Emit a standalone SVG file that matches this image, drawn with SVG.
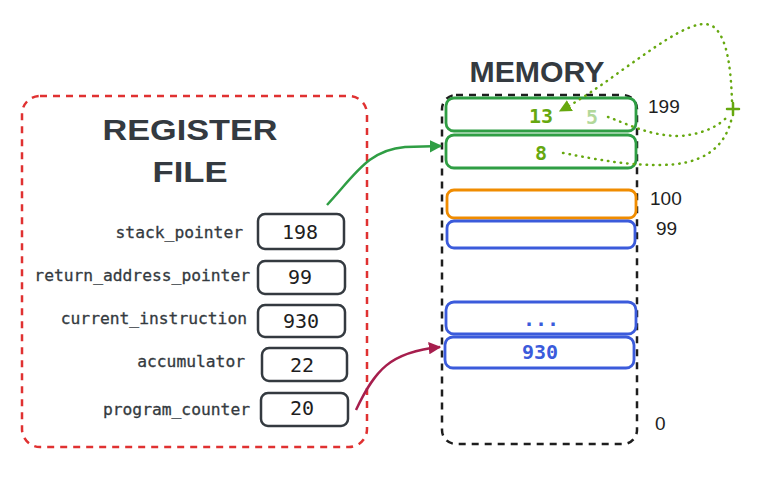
<svg xmlns="http://www.w3.org/2000/svg" width="760" height="484" viewBox="0 0 760 484">
<defs>
<style>
.title{font-family:"Liberation Sans",Arial,sans-serif;font-weight:bold;fill:#343a40}
.lbl{font-family:"DejaVu Sans Mono","Liberation Mono",monospace;font-size:16.3px;fill:#343a40;text-anchor:end;stroke:#343a40;stroke-width:0.3}
.val{font-family:"DejaVu Sans Mono","Liberation Mono",monospace;font-size:20px;fill:#1e1e1e;text-anchor:middle}
.reg{fill:#fff;stroke:#343a40;stroke-width:2.5}
.mem{font-family:"DejaVu Sans Mono","Liberation Mono",monospace;font-size:20px;font-weight:bold;text-anchor:middle}
.addr{font-family:"Liberation Sans",Arial,sans-serif;font-size:19px;fill:#1e1e1e}
.cell{fill:#fff;stroke-width:2.8}
.dot{fill:none;stroke:#66a80f;stroke-width:2.5;stroke-linecap:round;stroke-dasharray:0.5 6}
</style>
<marker id="agreen" viewBox="0 0 10 10" refX="9" refY="5" markerWidth="5" markerHeight="5" orient="auto"><path d="M0,0 L10,5 L0,10 z" fill="#2f9e44"/></marker>
<marker id="ared" viewBox="0 0 10 10" refX="9" refY="5" markerWidth="5" markerHeight="5" orient="auto"><path d="M0,0 L10,5 L0,10 z" fill="#a61e4d"/></marker>
<marker id="adot" viewBox="0 0 10 10" refX="9" refY="5" markerWidth="5" markerHeight="5" orient="auto"><path d="M0,0 L10,5 L0,10 z" fill="#66a80f"/></marker>
</defs>
<rect width="760" height="484" fill="#fff"/>

<g id="register-file">
<rect x="22" y="96" width="345" height="351" rx="18" fill="none" stroke="#e03131" stroke-width="2.5" stroke-dasharray="7 6"/>
<text class="title" x="190" y="140" font-size="30" text-anchor="middle" textLength="175" lengthAdjust="spacingAndGlyphs">REGISTER</text>
<text class="title" x="190" y="182" font-size="30" text-anchor="middle" textLength="75" lengthAdjust="spacingAndGlyphs">FILE</text>
</g>

<g id="reg-stack-pointer">
<text class="lbl" x="243" y="238">stack_pointer</text>
<rect class="reg" x="258" y="214" width="86" height="35" rx="7"/>
<text class="val" x="300" y="239">198</text>
</g>
<g id="reg-return-address-pointer">
<text class="lbl" x="250" y="281">return_address_pointer</text>
<rect class="reg" x="258" y="261" width="87" height="33" rx="7"/>
<text class="val" x="300" y="284">99</text>
</g>
<g id="reg-current-instruction">
<text class="lbl" x="247" y="324">current_instruction</text>
<rect class="reg" x="258" y="305" width="87" height="32" rx="7"/>
<text class="val" x="301" y="328">930</text>
</g>
<g id="reg-accumulator">
<text class="lbl" x="245" y="367">accumulator</text>
<rect class="reg" x="262" y="348" width="85" height="33" rx="7"/>
<text class="val" x="302" y="372">22</text>
</g>
<g id="reg-program-counter">
<text class="lbl" x="250" y="415">program_counter</text>
<rect class="reg" x="261" y="393" width="87" height="33" rx="7"/>
<text class="val" x="302" y="415">20</text>
</g>

<g id="memory">
<text class="title" x="537" y="82" font-size="30" text-anchor="middle" textLength="135" lengthAdjust="spacingAndGlyphs">MEMORY</text>
<rect x="442" y="95" width="195" height="349" rx="14" fill="none" stroke="#1e1e1e" stroke-width="2.5" stroke-dasharray="7 6"/>
</g>

<g id="mem-199">
<rect class="cell" x="446" y="98" width="190" height="33" rx="8" stroke="#2f9e44"/>
<text class="mem" x="541" y="123" fill="#66a80f">13</text>
<text class="mem" x="592" y="124" fill="#b2d89a">5</text>
<text class="addr" x="648" y="113">199</text>
</g>
<g id="mem-198">
<rect class="cell" x="446" y="135" width="190" height="33" rx="8" stroke="#2f9e44"/>
<text class="mem" x="541" y="160" fill="#66a80f">8</text>
</g>
<g id="mem-100">
<rect class="cell" x="447" y="190" width="189" height="28" rx="7" stroke="#f08c00"/>
<text class="addr" x="650" y="205">100</text>
</g>
<g id="mem-99">
<rect class="cell" x="447" y="221" width="188" height="27" rx="7" stroke="#3b5bdb"/>
<text class="addr" x="656" y="235">99</text>
</g>
<g id="mem-dots">
<rect class="cell" x="446" y="302" width="190" height="32" rx="8" stroke="#3b5bdb"/>
<text class="mem" x="541" y="326" fill="#3b5bdb" font-weight="normal" font-size="18">...</text>
</g>
<g id="mem-930">
<rect class="cell" x="445" y="337" width="189" height="31" rx="8" stroke="#3b5bdb"/>
<text class="mem" x="540" y="359" fill="#3b5bdb">930</text>
</g>
<g id="addr-0">
<text class="addr" x="655" y="430">0</text>
</g>

<g id="connectors">
<path d="M327,205 C355,175 368,150 405,147 L441,146" fill="none" stroke="#2f9e44" stroke-width="2.5" marker-end="url(#agreen)"/>
<path d="M356,410 C375,370 390,352 440,347" fill="none" stroke="#a61e4d" stroke-width="2.5" marker-end="url(#ared)"/>
<path class="dot" d="M608,117 C630,125 650,136 680,136 C705,134 720,125 728,116"/>
<path class="dot" d="M563,153 C600,160 625,165 660,165 C700,165 725,150 732,117"/>
<path class="dot" d="M732,101 C731,72 728,40 715,28 C700,14 665,40 625,68 C603,84 582,99 560,111" marker-end="url(#adot)"/>
<path d="M727,109 H739 M733,103 V115" stroke="#66a80f" stroke-width="2.5" stroke-linecap="round"/>
</g>
</svg>
